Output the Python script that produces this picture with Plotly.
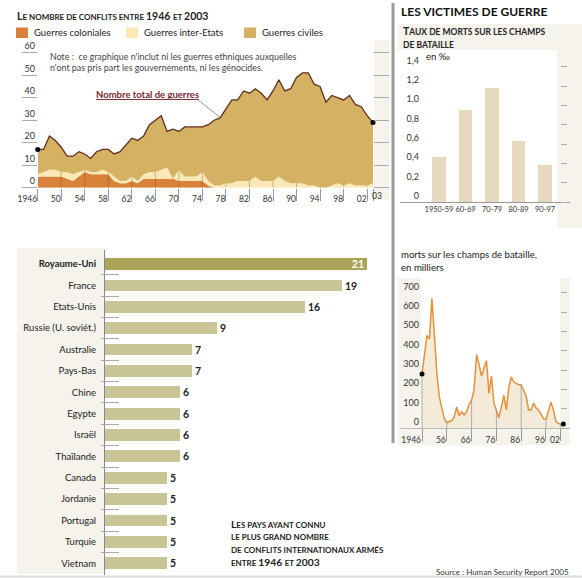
import plotly.graph_objects as go

W, H = 582, 578
FONT = "Lato"

# ---------------- data ----------------
years = list(range(1946, 2004))
colonial = [5, 5, 5, 5, 5, 4, 3, 5, 7, 6, 6, 6, 6, 3, 2, 2, 3, 2, 4, 4,
            4, 4, 4, 4, 3, 3, 3, 3, 3, 1, 0, 0, 0, 0, 0, 0, 0, 0, 0, 0,
            0, 0, 0, 0, 0, 0, 0, 0, 0, 0, 0, 0, 0, 0, 0, 0, 0, 0]
inter_state = [1, 2, 3, 3, 2, 3, 3, 2, 1, 1, 1, 2, 1, 2, 1, 1, 2, 1, 2, 3,
               3, 4, 5, 0, 5, 2, 2, 2, 4, 2, 1, 1, 2, 2, 3, 3, 3, 5, 3, 3,
               3, 5, 3, 2, 2, 2, 1, 1, 0, 0, 1, 2, 1, 2, 1, 1, 1, 2]
civil = [11, 10, 15, 13, 11, 7, 8, 9, 7, 6, 9, 9, 10, 10, 13, 16, 17, 18, 17, 21,
         23, 24, 16, 22, 17, 22, 22, 22, 20, 25, 29, 30, 33, 37, 36, 40, 39, 39, 39, 36,
         40, 43, 40, 42, 47, 49, 50, 45, 45, 38, 40, 38, 38, 39, 36, 35, 31, 27]
total = [17, 17, 23, 21, 18, 14, 14, 16, 15, 13, 16, 17, 17, 15, 16, 19, 22, 21, 23, 28,
         30, 32, 25, 26, 25, 27, 27, 27, 27, 28, 30, 31, 35, 39, 39, 43, 42, 44, 42, 39,
         43, 48, 43, 44, 49, 51, 51, 46, 45, 38, 41, 40, 39, 41, 37, 36, 32, 29]
top_ticks = list(range(1946, 2003, 4))
top_ticktext = ["1946", "50", "54", "58", "62", "66", "70", "74", "78", "82",
                "86", "90", "94", "98", "02"]

periods = ["1950-59", "60-69", "70-79", "80-89", "90-97"]
death_rate = [0.47, 0.95, 1.18, 0.63, 0.38]
rate_ticks = [0, 0.2, 0.4, 0.6, 0.8, 1.0, 1.2, 1.4]
rate_ticktext = ["0", "0,2", "0,4", "0,6", "0,8", "1,0", "1,2", "1,4"]

battle_deaths = [280, 380, 480, 460, 670, 480, 280, 160, 100, 50,
                 30, 35, 40, 60, 110, 65, 85, 70, 85, 125,
                 145, 200, 380, 330, 270, 310, 350, 180, 270, 130,
                 95, 55, 110, 170, 95, 210, 265, 240, 232, 225,
                 225, 190, 165, 95, 95, 130, 105, 95, 75, 50,
                 45, 95, 135, 95, 35, 25, 20, 22]
death_ticks = [1946, 1956, 1966, 1976, 1986, 1996, 2002]
death_ticktext = ["1946", "56", "66", "76", "86", "96", "02"]

countries = ["Royaume-Uni", "France", "Etats-Unis", "Russie (U. soviét.)", "Australie",
             "Pays-Bas", "Chine", "Egypte", "Israël", "Thaïlande", "Canada", "Jordanie",
             "Portugal", "Turquie", "Vietnam"]
conflicts = [21, 19, 16, 9, 7, 7, 6, 6, 6, 6, 5, 5, 5, 5, 5]


# ---------------- helpers ----------------
def px(x):
    return x / W


def py(y):
    return 1 - y / H


def sc(s, small):
    # small caps: lowercase runs rendered as smaller capitals
    out, run, low = "", "", None
    for ch in s:
        if ch == " ":
            run += ch
            continue
        is_low = ch.islower()
        if low is None or is_low == low:
            run += ch
        else:
            out += (f"<span style='font-size:{small}px'>{run.upper()}</span>" if low else run)
            run = ch
        low = is_low
    out += (f"<span style='font-size:{small}px'>{run.upper()}</span>" if low else run)
    return out


def txt(x, y, s, size, color="#222", anchor="left"):
    return dict(xref="paper", yref="paper", x=px(x), y=py(y), text=s, showarrow=False,
                xanchor=anchor, yanchor="middle", font=dict(size=size, color=color, family=FONT))


def rect(x0, y0, x1, y1, color):
    return dict(type="rect", xref="paper", yref="paper", x0=px(x0), x1=px(x1),
                y0=py(y1), y1=py(y0), fillcolor=color, line=dict(width=0), layer="below")


BEIGE = "#f5f3ec"
fig = go.Figure()

# ---------------- top: wars stacked area ----------------
for vals, name, col in [(colonial, "Guerres coloniales", "#d9813b"),
                        (inter_state, "Guerres inter-Etats", "#fbe8b4"),
                        (civil, "Guerres civiles", "#d4b163")]:
    fig.add_trace(go.Scatter(x=years, y=vals, name=name, stackgroup="wars", mode="none",
                             fillcolor=col, showlegend=False, xaxis="x", yaxis="y"))

dx, dy = [], []
for yr in top_ticks[1:]:
    i = years.index(yr)
    dx += [yr, yr, None]
    dy += [0, colonial[i] + inter_state[i], None]
fig.add_trace(go.Scatter(x=dx, y=dy, mode="lines", line=dict(color="rgba(110,80,50,0.45)", width=0.8),
                         showlegend=False, hoverinfo="skip", xaxis="x", yaxis="y"))
fig.add_trace(go.Scatter(x=years, y=total, mode="lines", line=dict(color="#5e2f1c", width=1.3),
                         showlegend=False, xaxis="x", yaxis="y"))
fig.add_trace(go.Scatter(x=[years[0], years[-1]], y=[total[0], total[-1]], mode="markers",
                         marker=dict(color="black", size=5), cliponaxis=False,
                         showlegend=False, xaxis="x", yaxis="y"))

# ---------------- top right: death rate bars ----------------
fig.add_trace(go.Bar(x=list(range(len(periods))), y=death_rate, width=0.5,
                     marker=dict(color="#e6d9c0", line=dict(width=0)),
                     showlegend=False, xaxis="x2", yaxis="y2"))
fig.add_trace(go.Scatter(x=list(range(len(periods))), y=death_rate, mode="markers", opacity=0,
                         showlegend=False, hoverinfo="skip", xaxis="x2", yaxis="y3"))

# ---------------- right: battle deaths ----------------
fig.add_trace(go.Scatter(x=years, y=battle_deaths, mode="lines", fill="tozeroy",
                         fillcolor="#f4ead8", line=dict(color="#e3913a", width=1.5),
                         showlegend=False, xaxis="x3", yaxis="y4"))
lx, ly = [], []
for yr in death_ticks:
    lx += [yr, yr, None]
    ly += [0, battle_deaths[years.index(yr)], None]
fig.add_trace(go.Scatter(x=lx, y=ly, mode="lines", line=dict(color="#9a9a9a", width=0.8),
                         showlegend=False, hoverinfo="skip", xaxis="x3", yaxis="y4"))
fig.add_trace(go.Scatter(x=[years[0], years[-1]], y=[battle_deaths[0], battle_deaths[-1]],
                         mode="markers", marker=dict(color="black", size=5), cliponaxis=False,
                         showlegend=False, xaxis="x3", yaxis="y5"))

# ---------------- bottom left: countries ----------------
bar_cols = ["#a9a457"] + ["#cac597"] * (len(countries) - 1)
fig.add_trace(go.Bar(x=conflicts, y=list(range(len(countries))), orientation="h", width=0.55,
                     marker=dict(color=bar_cols, line=dict(width=0)),
                     text=[str(v) for v in conflicts],
                     textposition=["inside"] + ["outside"] * (len(countries) - 1),
                     insidetextanchor="end", constraintext="none",
                     textfont=dict(family=FONT, size=10.5,
                                   color=["white"] + ["#222"] * (len(countries) - 1)),
                     texttemplate="<b>%{text}</b>", cliponaxis=False,
                     showlegend=False, xaxis="x4", yaxis="y6"))
fig.add_trace(go.Scatter(x=conflicts, y=list(range(len(countries))), mode="markers", opacity=0,
                         showlegend=False, hoverinfo="skip", xaxis="x4", yaxis="y7"))

tickfont = dict(family=FONT, size=9, color="#333")
NOAUTO = dict(automargin=False, tickangle=0, showgrid=False, zeroline=False)

fig.update_layout(
    width=W, height=H, margin=dict(l=0, r=0, t=0, b=0, pad=0),
    paper_bgcolor="white", plot_bgcolor="rgba(0,0,0,0)",
    font=dict(family=FONT, color="#222"),
    bargap=0,
    xaxis=dict(domain=[px(37.7), px(373)], range=[1946, 2003], tickvals=top_ticks + [2003],
               ticktext=top_ticktext + [""], ticks="outside", ticklen=12, tickcolor="#999",
               ticklabelposition="outside left", ticklabelstandoff=3,
               showline=False, tickfont=dict(family=FONT, size=8.5, color="#333"),
               anchor="y", **NOAUTO),
    yaxis=dict(domain=[py(187.7), py(52.7)], range=[0, 60], tickvals=list(range(0, 61, 10)),
               ticks="outside", ticklen=15, tickcolor="#aaa", mirror="ticks",
               ticklabelposition="outside top", ticklabelstandoff=0,
               showline=False, tickfont=tickfont, anchor="x", **NOAUTO),
    xaxis2=dict(domain=[px(400), px(570)], range=[-1.47, 4.94], tickvals=list(range(len(periods))),
                ticktext=periods, ticks="", showline=True,
                linecolor="#999", linewidth=1, tickfont=dict(family=FONT, size=7.5, color="#333"),
                anchor="y2", **NOAUTO),
    yaxis2=dict(domain=[py(202.3), py(57)], range=[0, 1.5], tickvals=rate_ticks, ticktext=rate_ticktext,
                ticks="", ticklabelposition="outside top", anchor="free", position=px(419),
                showline=False, tickfont=tickfont, **NOAUTO),
    yaxis3=dict(overlaying="y2", side="right", anchor="free", position=px(560), range=[0, 1.5],
                tickvals=rate_ticks, ticks="outside", ticklen=6, tickcolor="#aaa",
                showticklabels=False, showline=False, **NOAUTO),
    xaxis3=dict(domain=[px(400), px(570)], range=[1937.13, 2005.68], tickvals=death_ticks,
                ticktext=death_ticktext, ticks="outside", ticklen=12, tickcolor="#999",
                ticklabelposition="outside left", ticklabelstandoff=3,
                showline=True, linecolor="#bbb", linewidth=1,
                tickfont=dict(family=FONT, size=8.5, color="#333"), anchor="y4", **NOAUTO),
    yaxis4=dict(domain=[py(428.3), py(273.3)], range=[0, 800], tickvals=list(range(0, 701, 100)),
                ticks="", ticklabelposition="outside top", anchor="free", position=px(419),
                showline=False, tickfont=tickfont, **NOAUTO),
    yaxis5=dict(overlaying="y4", side="right", anchor="free", position=px(560), range=[0, 800],
                tickvals=list(range(0, 701, 100)), ticks="outside", ticklen=6, tickcolor="#aaa",
                showticklabels=False, showline=False, **NOAUTO),
    xaxis4=dict(domain=[px(105), px(380)], range=[0, 22.04], visible=False, anchor="y6", **NOAUTO),
    yaxis6=dict(domain=[py(575), py(250)], range=[14.55, -0.655], tickvals=list(range(len(countries))),
                ticktext=["<b>" + countries[0] + "</b>"] + countries[1:], ticks="",
                ticklabelstandoff=6, showline=True,
                linecolor="#888", linewidth=1, tickfont=dict(family=FONT, size=9.5, color="#222"),
                anchor="x4", **NOAUTO),
    yaxis7=dict(overlaying="y6", anchor="free", position=px(100), range=[14.55, -0.655],
                tickvals=[i + 0.5 for i in range(len(countries) - 1)], ticks="inside", ticklen=18,
                tickcolor="#aaa", showticklabels=False, showline=False, **NOAUTO),
)

shapes = [
    rect(374, 40, 390, 200, BEIGE),
    rect(398, 24, 582, 228, BEIGE),
    rect(398, 50, 557, 228, "white"),
    rect(398, 278, 570, 445, BEIGE),
    rect(421, 278, 560, 428, "white"),
    rect(17, 248, 105, 574, BEIGE),
    # legend swatches
    rect(16, 27.5, 28, 38, "#d9813b"),
    rect(126, 27.5, 138, 38, "#fbe8b4"),
    rect(244, 27.5, 256, 38, "#d4b163"),
    dict(type="line", xref="paper", yref="paper", x0=px(393), x1=px(393), y0=py(3), y1=py(443),
         line=dict(color="#9a9a9a", width=3)),
    dict(type="line", xref="paper", yref="paper", x0=0, x1=1, y0=py(576.5), y1=py(576.5),
         line=dict(color="#dddddd", width=2)),
]
for s in shapes[6:9]:
    s["layer"] = "above"
fig.update_layout(shapes=shapes)

ann = [
    txt(15, 16, "<b>" + sc("Le nombre de conflits entre 1946 et 2003", 8) + "</b>", 10.5),
    txt(32, 33, "Guerres coloniales", 9.5),
    txt(142, 33, "Guerres inter-Etats", 9.5),
    txt(260, 33, "Guerres civiles", 9.5),
    txt(48, 56, "Note :  ce graphique n'inclut ni les guerres ethniques auxquelles", 8.9, "#444"),
    txt(48, 67, "n'ont pas pris part les gouvernements, ni les génocides.", 8.9, "#444"),
    txt(94, 94, "<b><u>Nombre total de guerres</u></b>", 9.5, "#7a2630"),
    dict(xref="x", yref="paper", x=2003, y=py(196), text="03", showarrow=False, xanchor="left",
         xshift=-3, yanchor="middle", font=dict(family=FONT, size=8.5, color="#333")),
    dict(xref="x", yref="y", x=1977, y=31.3, ax=-23, ay=-18, text="", showarrow=True,
         arrowhead=0, arrowwidth=1, arrowcolor="#999"),
    txt(399, 12, "<b>LES VICTIMES DE GUERRE</b>", 12, "#111"),
    txt(401, 31, "<b>" + sc("Taux de morts sur les champs", 8.5) + "</b>", 10.5),
    txt(401, 44.5, "<b>" + sc("de bataille", 8.5) + "</b>", 10.5),
    txt(424, 57, "en ‰", 9.5),
    txt(399, 254, "morts sur les champs de bataille,", 9.6),
    txt(399, 267, "en milliers", 9.6),
    txt(229, 523.5, "<b>" + sc("Les pays ayant connu", 8) + "</b>", 10.3),
    txt(229, 536.5, "<b>" + sc("le plus grand nombre", 8) + "</b>", 10.3),
    txt(229, 549.5, "<b>" + sc("de conflits internationaux armés", 8) + "</b>", 10.3),
    txt(229, 562, "<b>" + sc("entre 1946 et 2003", 8) + "</b>", 10.3),
    txt(434, 572, "Source : Human Security Report 2005", 8, "#333"),
]
fig.update_layout(annotations=ann)

fig.write_html("out.html", config={"displayModeBar": False},
               post_script="document.body.style.margin='0px';")
